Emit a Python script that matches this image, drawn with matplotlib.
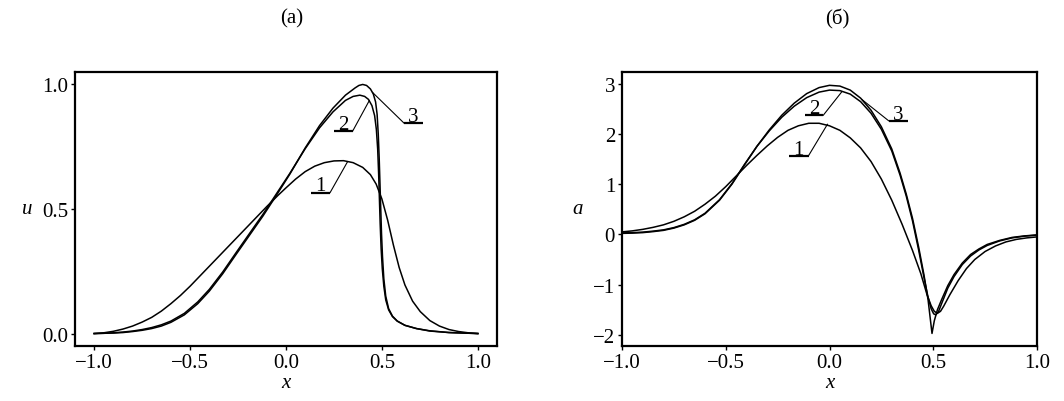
import matplotlib
matplotlib.use("Agg")
import matplotlib.pyplot as plt

plt.rcParams['font.family'] = ['Liberation Serif', 'DejaVu Serif']
plt.rcParams['font.size'] = 15

# (а) profiles u(x), curves 1, 2, 3
xu1 = [-1.0, -0.95, -0.9, -0.85, -0.8, -0.75, -0.7, -0.65, -0.6, -0.55, -0.5, -0.4, -0.3,
       -0.2, -0.1, -0.04, 0.0, 0.05, 0.1, 0.15, 0.2, 0.25, 0.3, 0.35, 0.4, 0.44, 0.47, 0.5,
       0.53, 0.56, 0.59, 0.62, 0.66, 0.7, 0.75, 0.8, 0.85, 0.9, 0.95, 1.0]
u1 = [0.0, 0.003, 0.009, 0.018, 0.03, 0.046, 0.065, 0.09, 0.12, 0.153, 0.19, 0.27, 0.35,
      0.43, 0.51, 0.556, 0.585, 0.62, 0.65, 0.672, 0.686, 0.693, 0.694, 0.686, 0.667, 0.638,
      0.6, 0.54, 0.455, 0.355, 0.265, 0.195, 0.13, 0.088, 0.052, 0.03, 0.016, 0.008, 0.003,
      0.0]

xu2 = [-1.0, -0.95, -0.9, -0.85, -0.8, -0.75, -0.7, -0.65, -0.6, -0.53, -0.46, -0.4, -0.33,
       -0.26, -0.19, -0.12, -0.05, 0.02, 0.1, 0.175, 0.245, 0.31, 0.35, 0.385, 0.41, 0.43,
       0.448, 0.462, 0.471, 0.478, 0.483, 0.487, 0.491, 0.496, 0.502, 0.51, 0.52, 0.535,
       0.555, 0.58, 0.62, 0.68, 0.75, 0.85, 1.0]
u2 = [0.0, 0.001, 0.003, 0.006, 0.01, 0.016, 0.024, 0.035, 0.05, 0.081, 0.127, 0.177, 0.247,
      0.325, 0.402, 0.479, 0.561, 0.643, 0.742, 0.826, 0.89, 0.936, 0.952, 0.957, 0.952,
      0.94, 0.915, 0.875, 0.82, 0.74, 0.64, 0.54, 0.44, 0.34, 0.26, 0.19, 0.135, 0.095,
      0.068, 0.05, 0.033, 0.02, 0.011, 0.004, 0.0]

xu3 = [-1.0, -0.95, -0.9, -0.85, -0.8, -0.75, -0.7, -0.65, -0.6, -0.53, -0.46, -0.4, -0.33,
       -0.26, -0.19, -0.12, -0.05, 0.02, 0.1, 0.175, 0.245, 0.31, 0.36, 0.38, 0.4, 0.42,
       0.44, 0.455, 0.467, 0.475, 0.481, 0.486, 0.49, 0.494, 0.498, 0.503, 0.51, 0.52,
       0.535, 0.555, 0.58, 0.62, 0.68, 0.75, 0.85, 1.0]
u3 = [0.0, 0.001, 0.002, 0.004, 0.008, 0.013, 0.02, 0.03, 0.045, 0.075, 0.12, 0.17, 0.24,
      0.318, 0.395, 0.472, 0.555, 0.64, 0.745, 0.835, 0.905, 0.957, 0.986, 0.996, 1.0,
      0.996, 0.982, 0.962, 0.93, 0.88, 0.8, 0.7, 0.6, 0.5, 0.4, 0.31, 0.22, 0.15, 0.1,
      0.07, 0.05, 0.033, 0.02, 0.01, 0.004, 0.0]

# (б) profiles a(x), curves 1, 2, 3
xa1 = [-1.0, -0.95, -0.9, -0.85, -0.8, -0.75, -0.7, -0.65, -0.6, -0.55, -0.5, -0.45, -0.4,
       -0.35, -0.3, -0.25, -0.2, -0.15, -0.1, -0.05, 0.0, 0.05, 0.1, 0.15, 0.2, 0.25, 0.3,
       0.35, 0.4, 0.44, 0.47, 0.49, 0.505, 0.52, 0.535, 0.55, 0.58, 0.62, 0.66, 0.7, 0.75,
       0.8, 0.85, 0.9, 0.95, 1.0]
a1 = [0.05, 0.07, 0.1, 0.14, 0.19, 0.26, 0.35, 0.46, 0.6, 0.76, 0.95, 1.16, 1.37, 1.57,
      1.76, 1.93, 2.07, 2.16, 2.21, 2.21, 2.16, 2.07, 1.92, 1.72, 1.45, 1.1, 0.68, 0.2,
      -0.32, -0.78, -1.2, -1.42, -1.53, -1.57, -1.53, -1.43, -1.2, -0.92, -0.68, -0.5,
      -0.34, -0.23, -0.15, -0.1, -0.07, -0.05]

xa2 = [-1.0, -0.95, -0.9, -0.85, -0.8, -0.75, -0.7, -0.65, -0.6, -0.53, -0.47, -0.41, -0.35,
       -0.29, -0.23, -0.17, -0.11, -0.05, 0.0, 0.05, 0.1, 0.15, 0.2, 0.25, 0.3, 0.34, 0.37,
       0.4, 0.43, 0.455, 0.475, 0.49, 0.502, 0.512, 0.525, 0.54, 0.57, 0.6, 0.64, 0.68, 0.72,
       0.76, 0.82, 0.88, 0.94, 1.0]
a2 = [0.03, 0.035, 0.045, 0.065, 0.09, 0.135, 0.2, 0.29, 0.42, 0.69, 1.01, 1.39, 1.75, 2.06,
      2.33, 2.55, 2.72, 2.83, 2.87, 2.86, 2.79, 2.64, 2.41, 2.09, 1.66, 1.18, 0.76, 0.27,
      -0.32, -0.85, -1.25, -1.48, -1.58, -1.6, -1.54, -1.38, -1.07, -0.84, -0.6, -0.43,
      -0.31, -0.22, -0.13, -0.07, -0.035, -0.015]

xa3 = [-1.0, -0.95, -0.9, -0.85, -0.8, -0.75, -0.7, -0.65, -0.6, -0.53, -0.47, -0.41, -0.35,
       -0.29, -0.23, -0.17, -0.11, -0.05, 0.0, 0.05, 0.1, 0.15, 0.2, 0.25, 0.3, 0.34, 0.37,
       0.4, 0.43, 0.455, 0.475, 0.494, 0.505, 0.52, 0.54, 0.57, 0.6, 0.64, 0.68, 0.72, 0.76,
       0.82, 0.88, 0.94, 1.0]
a3 = [0.02, 0.025, 0.035, 0.055, 0.08, 0.125, 0.19, 0.28, 0.41, 0.68, 1.0, 1.38, 1.75, 2.08,
      2.37, 2.61, 2.8, 2.92, 2.965, 2.95, 2.87, 2.71, 2.47, 2.14, 1.7, 1.22, 0.8, 0.32,
      -0.26, -0.8, -1.3, -1.97, -1.72, -1.5, -1.3, -1.02, -0.8, -0.57, -0.4, -0.29, -0.2,
      -0.12, -0.06, -0.03, -0.01]

# curve tags: text, underline x0, x1, y, leader end x, y
tags_u = [("1", 0.132, 0.23, 0.566, 0.321, 0.69),
          ("2", 0.249, 0.347, 0.812, 0.434, 0.935),
          ("3", 0.615, 0.713, 0.845, 0.451, 0.968)]
tags_a = [("1", -0.197, -0.101, 1.565, -0.01, 2.19),
          ("2", -0.12, -0.03, 2.37, 0.06, 2.84),
          ("3", 0.285, 0.376, 2.26, 0.157, 2.68)]


def tag(ax, txt, x0, x1, y, xe, ye):
    xs = x1 if xe > x1 else x0
    ax.plot([x0, x1], [y, y], color='k', lw=1.6, solid_capstyle='butt')
    ax.plot([xs, xe], [y, ye], color='k', lw=0.8)
    ax.annotate(txt, ((x0 + x1) / 2, y), xytext=(0, 1.5), textcoords='offset points',
                ha='center', va='baseline')


def style(ax):
    for s in ax.spines.values():
        s.set_linewidth(1.6)
    ax.tick_params(direction='out', length=3, width=1, pad=2)


fig = plt.figure(figsize=(10.64, 4.02), dpi=100)
ax1 = fig.add_axes([75 / 1064, 55 / 402, 422 / 1064, 274 / 402])
ax2 = fig.add_axes([622 / 1064, 55 / 402, 415 / 1064, 274 / 402])

ax1.plot(xu1, u1, color='k', lw=1.1)
ax1.plot(xu2, u2, color='k', lw=1.1)
ax1.plot(xu3, u3, color='k', lw=1.1)
for t in tags_u:
    tag(ax1, *t)
ax1.set_xlim(-1.1, 1.1)
ax1.set_ylim(-0.05, 1.05)
ax1.set_xticks([-1.0, -0.5, 0.0, 0.5, 1.0])
ax1.set_yticks([0.0, 0.5, 1.0])
ax1.set_xticklabels(['\u22121.0', '\u22120.5', '0.0', '0.5', '1.0'])
ax1.set_yticklabels(['0.0', '0.5', '1.0'])
ax1.set_xlabel('x', fontstyle='italic')
ax1.set_ylabel('u', fontstyle='italic', rotation=0, va='center')
ax1.xaxis.set_label_coords(0.5, -0.1)
ax1.yaxis.set_label_coords(-0.114, 0.5)
style(ax1)

ax2.plot(xa1, a1, color='k', lw=1.1)
ax2.plot(xa2, a2, color='k', lw=1.1)
ax2.plot(xa3, a3, color='k', lw=1.1)
for t in tags_a:
    tag(ax2, *t)
ax2.set_xlim(-1.0, 1.0)
ax2.set_ylim(-2.22, 3.23)
ax2.set_xticks([-1.0, -0.5, 0.0, 0.5, 1.0])
ax2.set_yticks([-2, -1, 0, 1, 2, 3])
ax2.set_xticklabels(['\u22121.0', '\u22120.5', '0.0', '0.5', '1.0'])
ax2.set_yticklabels(['\u22122', '\u22121', '0', '1', '2', '3'])
ax2.set_xlabel('x', fontstyle='italic')
ax2.set_ylabel('a', fontstyle='italic', rotation=0, va='center')
ax2.xaxis.set_label_coords(0.5, -0.1)
ax2.yaxis.set_label_coords(-0.106, 0.5)
style(ax2)

fig.text(292 / 1064, 1 - 19 / 402, '(а)', ha='center', va='center')
fig.text(837 / 1064, 1 - 19 / 402, '(б)', ha='center', va='center')

fig.savefig('out.png', dpi=100)
